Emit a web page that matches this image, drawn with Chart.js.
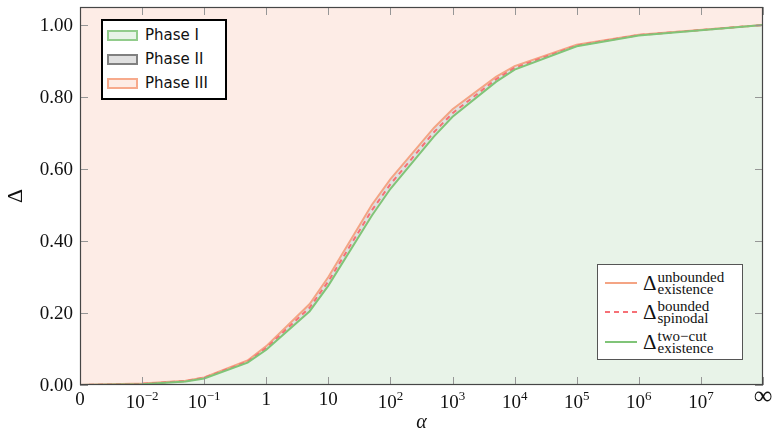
<!DOCTYPE html>
<html>
<head>
<meta charset="utf-8">
<script src="https://cdn.jsdelivr.net/npm/chart.js@4.4.0/dist/chart.umd.min.js"></script>
<style>
  body { margin: 0; background: #fff; }
  #wrap { position: relative; width: 773px; height: 430px; }
  canvas { position: absolute; left: 0; top: 0; }
  .legend { position: absolute; background: #fff; box-sizing: border-box; }
  #phaseLegend { left: 101px; top: 19px; width: 126px; height: 81px; border: 2px solid #000;
    font-family: 'DejaVu Sans'; font-size: 15px; color: #111; }
  .prow { position: absolute; left: 4px; height: 20px; display: flex; align-items: center; }
  .swatch { width: 27px; height: 7px; border: 2px solid; margin-right: 7px; }
  #lineLegend { left: 597px; top: 264px; width: 146px; height: 96px; border: 1px solid #555;
    font-family: 'Liberation Serif', serif; color: #111; }
  .lrow { position: absolute; left: 7px; height: 28px; display: flex; align-items: center; }
  .sample { width: 32px; height: 2px; margin-right: 6px; }
  .delta { font-size: 21px; }
  .stack { display: flex; flex-direction: column; font-size: 15px; line-height: 12px; margin-left: 1px; }
</style>
</head>
<body>
<div id="wrap">
  <canvas id="chart" width="773" height="430"></canvas>
  <div class="legend" id="phaseLegend">
    <div class="prow" style="top:4px"><div class="swatch" style="border-color:rgb(146,204,140);background:rgb(232,244,232)"></div>Phase I</div>
    <div class="prow" style="top:28px"><div class="swatch" style="border-color:rgb(128,128,128);background:rgb(224,224,224)"></div>Phase II</div>
    <div class="prow" style="top:52px"><div class="swatch" style="border-color:rgb(247,170,140);background:rgb(253,236,229)"></div>Phase III</div>
  </div>
  <div class="legend" id="lineLegend">
    <div class="lrow" style="top:4px"><div class="sample" style="background:rgb(244,164,132)"></div><span class="delta">Δ</span><span class="stack"><span>unbounded</span><span>existence</span></span></div>
    <div class="lrow" style="top:33px"><div class="sample" style="background:repeating-linear-gradient(90deg, rgb(246,112,118) 0 5px, transparent 5px 9px)"></div><span class="delta">Δ</span><span class="stack"><span>bounded</span><span>spinodal</span></span></div>
    <div class="lrow" style="top:63px"><div class="sample" style="background:rgb(128,196,120)"></div><span class="delta">Δ</span><span class="stack"><span>two−cut</span><span>existence</span></span></div>
  </div>
</div>
<script>
// alpha values where the curves were sampled
const alphas = [0, 0.01, 0.05, 0.1, 0.5, 1, 5, 10, 50, 100, 500, 1e3, 5e3, 1e4, 1e5, 1e6, Infinity];
const unboundedExistence = [0, 0.004, 0.012, 0.021, 0.068, 0.108, 0.225, 0.300, 0.500, 0.572, 0.714, 0.766, 0.856, 0.886, 0.945, 0.973, 1.0];
const boundedSpinodal    = [0, 0.003, 0.011, 0.020, 0.065, 0.103, 0.215, 0.288, 0.485, 0.558, 0.702, 0.755, 0.849, 0.881, 0.943, 0.972, 1.0];
const twoCutExistence    = [0, 0.002, 0.010, 0.018, 0.062, 0.098, 0.205, 0.276, 0.470, 0.545, 0.690, 0.745, 0.842, 0.876, 0.941, 0.971, 1.0];

// x tick labels: base and exponent
const xTickBase = ['0', '10', '10', '1', '10', '10', '10', '10', '10', '10', '10', '∞'];
const xTickExp  = ['', '−2', '−1', '', '', '2', '3', '4', '5', '6', '7', ''];
const yTicks = [0, 0.2, 0.4, 0.6, 0.8, 1.0];

const orangeLine = 'rgb(244,164,132)';
const dashRed = 'rgb(246,112,118)';
const greenLine = 'rgb(128,196,120)';

// position on the axis: 0 -> 0, 10^k -> k+3, infinity -> 11
const pos = a => a === 0 ? 0 : (a === Infinity ? 11 : Math.log10(a) + 3);
const pts = ys => alphas.map((a, i) => ({ x: pos(a), y: ys[i] }));

const serif = "'Liberation Serif', serif";

// pgfplots-like frame: box with inward ticks on all four sides, labels drawn by hand
const frame = {
    id: 'frame',
    afterDatasetsDraw(chart) {
        const { ctx, chartArea: a, scales: { x, y } } = chart;
        ctx.save();
        ctx.strokeStyle = 'rgb(150,150,150)';
        ctx.lineWidth = 1;
        ctx.beginPath();
        xTickBase.forEach((_, i) => {
            const px = Math.round(x.getPixelForValue(i)) + 0.5;
            ctx.moveTo(px, a.bottom); ctx.lineTo(px, a.bottom - 8);
            ctx.moveTo(px, a.top); ctx.lineTo(px, a.top + 8);
        });
        yTicks.forEach(v => {
            const py = Math.round(y.getPixelForValue(v)) + 0.5;
            ctx.moveTo(a.left, py); ctx.lineTo(a.left + 8, py);
            ctx.moveTo(a.right, py); ctx.lineTo(a.right - 8, py);
        });
        ctx.stroke();
        ctx.strokeStyle = 'rgb(70,70,70)';
        ctx.lineWidth = 1.2;
        ctx.strokeRect(a.left + 0.5, a.top + 0.5, a.right - a.left - 1, a.bottom - a.top - 1);
        ctx.restore();
    },
    afterDraw(chart) {
        const { ctx, chartArea: a, scales: { x, y } } = chart;
        ctx.save();
        ctx.fillStyle = '#111';
        // y labels
        ctx.font = '19px ' + serif;
        ctx.textAlign = 'right';
        ctx.textBaseline = 'middle';
        yTicks.forEach(v => ctx.fillText(v.toFixed(2), a.left - 7, y.getPixelForValue(v) + 1));
        // x labels
        ctx.textAlign = 'left';
        ctx.textBaseline = 'alphabetic';
        xTickBase.forEach((b, i) => {
            const px = x.getPixelForValue(i);
            const e = xTickExp[i];
            if (b === '∞') {
                ctx.font = '26px ' + serif;
                const w = ctx.measureText(b).width;
                ctx.fillText(b, px - w / 2, a.bottom + 19);
                return;
            }
            ctx.font = '19px ' + serif;
            const wb = ctx.measureText(b).width;
            if (!e) {
                ctx.fillText(b, px - wb / 2, a.bottom + 20);
                return;
            }
            ctx.font = '13px ' + serif;
            const we = ctx.measureText(e).width;
            const x0 = px - (wb + we) / 2;
            ctx.font = '19px ' + serif;
            ctx.fillText(b, x0, a.bottom + 23);
            ctx.font = '13px ' + serif;
            ctx.fillText(e, x0 + wb, a.bottom + 15);
        });
        // axis titles
        ctx.font = 'italic 20px ' + serif;
        ctx.textAlign = 'center';
        ctx.fillText('α', (a.left + a.right) / 2, 428);
        ctx.translate(16, 196);
        ctx.rotate(-Math.PI / 2);
        ctx.font = '22px ' + serif;
        ctx.textBaseline = 'middle';
        ctx.fillText('Δ', 0, 0);
        ctx.restore();
    }
};

const base = { pointRadius: 0, tension: 0 };

new Chart(document.getElementById('chart').getContext('2d'), {
    type: 'line',
    data: {
        datasets: [
            { ...base, label: 'Phase III', data: pts(unboundedExistence), fill: 'end',
              backgroundColor: 'rgb(253,236,230)', borderColor: 'transparent', borderWidth: 0 },
            { ...base, label: 'Phase II', data: pts(unboundedExistence), fill: 2,
              backgroundColor: 'rgb(224,224,224)', borderColor: 'transparent', borderWidth: 0 },
            { ...base, label: 'Phase I', data: pts(twoCutExistence), fill: 'origin',
              backgroundColor: 'rgb(232,243,232)', borderColor: 'transparent', borderWidth: 0 },
            { ...base, label: 'two-cut existence', data: pts(twoCutExistence), fill: false,
              borderColor: greenLine, borderWidth: 2 },
            { ...base, label: 'bounded spinodal', data: pts(boundedSpinodal), fill: false,
              borderColor: dashRed, borderWidth: 2, borderDash: [5, 4] },
            { ...base, label: 'unbounded existence', data: pts(unboundedExistence), fill: false,
              borderColor: orangeLine, borderWidth: 2 }
        ]
    },
    options: {
        responsive: false,
        animation: false,
        layout: { padding: { left: 80, right: 10, top: 7, bottom: 45 } },
        plugins: {
            legend: { display: false },
            tooltip: { enabled: false },
            filler: { drawTime: 'beforeDatasetsDraw' }
        },
        scales: {
            x: { type: 'linear', min: 0, max: 11, grid: { display: false }, ticks: { display: false },
                 border: { display: false }, afterFit: s => { s.height = 0; } },
            y: { min: 0, max: 1.05, grid: { display: false }, ticks: { display: false },
                 border: { display: false }, afterFit: s => { s.width = 0; } }
        }
    },
    plugins: [frame]
});
</script>
</body>
</html>
